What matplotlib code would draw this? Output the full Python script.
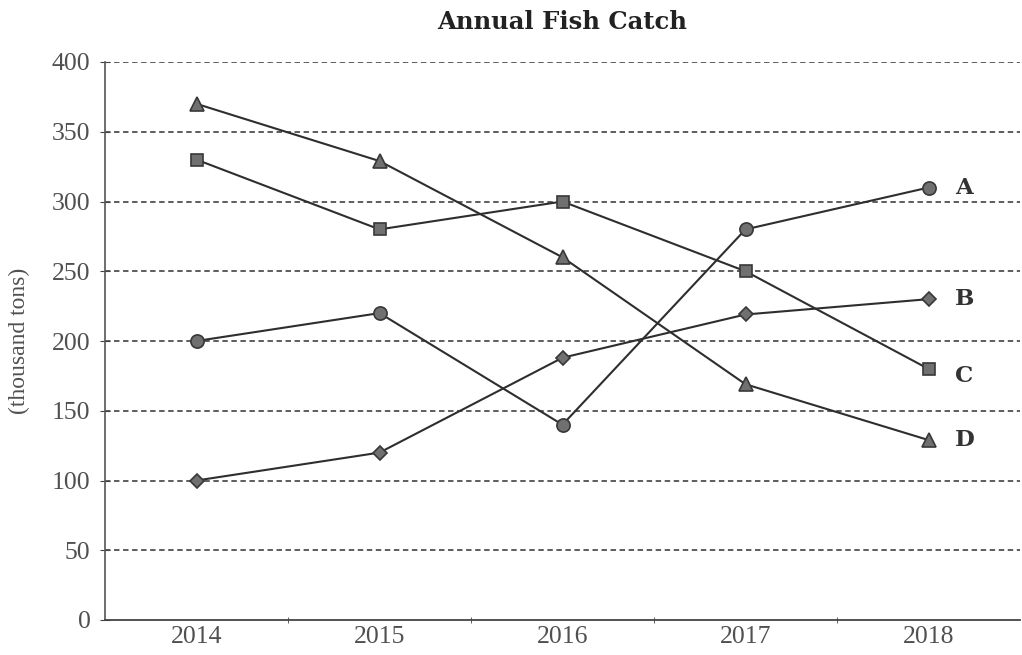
import matplotlib
matplotlib.use("Agg")
import matplotlib.pyplot as plt

years = ["2014", "2015", "2016", "2017", "2018"]
series_names = ["A", "B", "C", "D"]
A = [200, 220, 140, 280, 310]
B = [100, 120, 188, 219, 230]
C = [330, 280, 300, 250, 180]
D = [370, 329, 260, 169, 129]
yticks = [0, 50, 100, 150, 200, 250, 300, 350, 400]

plt.rcParams['font.family'] = ['Liberation Serif', 'DejaVu Serif']

fig = plt.figure(figsize=(10.22, 6.55), dpi=100)
ax = fig.add_axes([105/1022, 35/655, (1020-105)/1022, (620-62)/655])

x = list(range(len(years)))
styles = [(A, 'o', 9.5), (B, 'D', 7), (C, 's', 8.5), (D, '^', 10)]
for vals, m, ms in styles:
    ax.plot(x, vals, color='#2e2e2e', lw=1.5, marker=m, ms=ms,
            mfc='#707070', mec='#383838', mew=1.2, zorder=3)

label_off = [0, 0, -5, 0]
for name, (vals, _, _), off in zip(series_names, styles, label_off):
    ax.annotate(name, xy=(x[-1], vals[-1]), xytext=(19, off), textcoords='offset points',
                fontsize=16.5, fontweight='bold', color='#333333', va='center', ha='left',
                family=['DejaVu Serif'])

ax.set_xlim(-0.5, 4.5)
ax.set_ylim(0, 400)
ax.set_yticks(yticks)
ax.set_yticklabels([str(v) for v in yticks], fontsize=18.5, color='#505050')
ax.set_xticks(x)
ax.set_xticklabels(years, fontsize=18.5, color='#505050')
ax.set_xticks([i + 0.5 for i in range(len(years) - 1)], minor=True)
ax.tick_params(axis='x', which='major', length=0, pad=4)
ax.tick_params(axis='x', which='minor', length=5, direction='inout', color='#444444')
ax.tick_params(axis='y', length=7, direction='inout', color='#444444', pad=7)

for v in yticks[1:]:
    ax.axhline(v, color='#505050', lw=1.3, ls=(0, (3, 2)), zorder=1)

for s in ['top', 'right']:
    ax.spines[s].set_visible(False)
ax.spines['left'].set_color('#555555')
ax.spines['bottom'].set_color('#444444')
ax.spines['left'].set_linewidth(1.2)
ax.spines['bottom'].set_linewidth(1.3)

ax.set_ylabel("(thousand tons)", fontsize=17, color='#505050', labelpad=16)
fig.text((105 + 1020) / 2 / 1022, 1 - 22/655, "Annual Fish Catch", ha='center', va='center',
         fontsize=17.5, fontweight='bold', color='#222222', family=['DejaVu Serif'])

fig.savefig("out.png", dpi=100)
